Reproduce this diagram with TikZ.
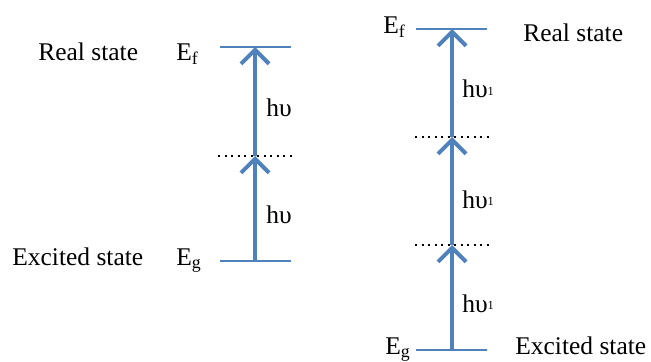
\documentclass[tikz,border=0pt]{standalone}
\usepackage{xcolor}
\usepackage{fontspec}
\setmainfont{Liberation Serif}
\newfontfamily\labelfont{Liberation Serif}
\usetikzlibrary{arrows.meta, positioning}
\definecolor{levelblue}{RGB}{79,129,189}

\begin{document}
\begin{tikzpicture}[x=0.02cm, y=-0.02cm,
  level/.style={draw=levelblue, line width=1.7pt},
  virtual/.style={line width=1.3pt, dash pattern=on 1.3pt off 2.4pt},
  photon/.style={-{Straight Barb[length=8pt, width=16pt]}, draw=levelblue, line width=2.3pt},
  txt/.style={font=\labelfont\fontsize{14.5}{17}\selectfont, inner sep=0pt, anchor=base west}
]
  \useasboundingbox (0,0) rectangle (651,361);

  % left: two photon absorption
  \coordinate (lf1) at (220,47);  \coordinate (lf2) at (291,47);
  \coordinate (lv1) at (218,156); \coordinate (lv2) at (296,156);
  \coordinate (lg1) at (220,261); \coordinate (lg2) at (291,261);
  \coordinate (la) at (255,261); \coordinate (lb) at (255,156); \coordinate (lc) at (255,47);
  \draw[level] (lf1) -- (lf2);
  \draw[level] (lg1) -- (lg2);
  \draw[virtual] (lv1) -- (lv2);
  \draw[photon] (la) -- (lb);
  \draw[photon] (lb) -- (lc);
  \node[txt] (realL) at (38,61) {Real state};
  \node[txt] (efL) at (176,61) {E\textsubscript{f}};
  \node[txt] (excL) at (12,265) {Excited state};
  \node[txt] (egL) at (176,265) {E\textsubscript{g}};
  \node[txt] (hvLa) at (266,117) {hυ};
  \node[txt] (hvLb) at (266,223) {hυ};

  % right: three photon absorption
  \coordinate (rf1) at (416,29);  \coordinate (rf2) at (487,29);
  \coordinate (rv1) at (415,137); \coordinate (rv2) at (493,137);
  \coordinate (rw1) at (415,245); \coordinate (rw2) at (493,245);
  \coordinate (rg1) at (416,350); \coordinate (rg2) at (487,350);
  \coordinate (ra) at (452,350); \coordinate (rb) at (452,245);
  \coordinate (rc) at (452,137); \coordinate (rd) at (452,29);
  \draw[level] (rf1) -- (rf2);
  \draw[level] (rg1) -- (rg2);
  \draw[virtual] (rv1) -- (rv2);
  \draw[virtual] (rw1) -- (rw2);
  \draw[photon] (ra) -- (rb);
  \draw[photon] (rb) -- (rc);
  \draw[photon] (rc) -- (rd);
  \node[txt] (efR) at (383,34) {E\textsubscript{f}};
  \node[txt] (realR) at (523,42) {Real state};
  \node[txt] (egR) at (385,354) {E\textsubscript{g}};
  \node[txt] (excR) at (515,354) {Excited state};
  \foreach \y/\n in {98/a, 208/b, 312/c}
    \node[txt] (hvR\n) at (462,\y) {hυ\raisebox{0.25ex}{\fontsize{7}{8}\selectfont 1}};
\end{tikzpicture}
\end{document}
